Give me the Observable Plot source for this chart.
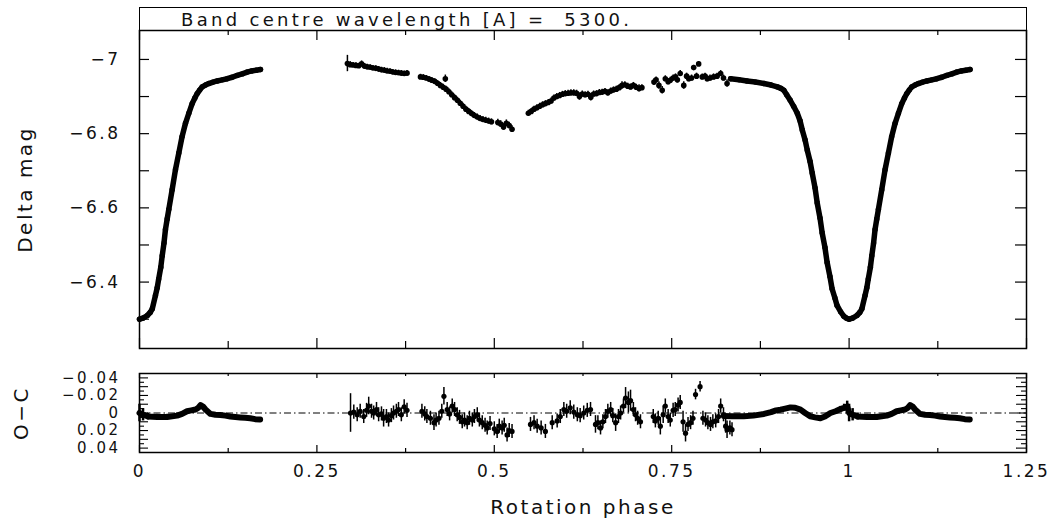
<!DOCTYPE html>
<html>
<head>
<meta charset="utf-8">
<script src="https://cdn.jsdelivr.net/npm/d3@7"></script>
<script src="https://cdn.jsdelivr.net/npm/@observablehq/plot@0.6"></script>
<style>
  body { margin: 0; background: #fff; }
  #wrap { position: relative; width: 1054px; height: 519px; overflow: hidden; font-family: "DejaVu Sans", sans-serif; }
  #top { position: absolute; left: 0; top: 0; }
  #bot { position: absolute; left: 0; top: 360px; }
  #title { position: absolute; left: 139px; top: 7px; width: 888px; height: 24px; box-sizing: border-box;
           border: 1.5px solid #000; border-bottom: none; font-size: 18px; letter-spacing: 3.3px;
           line-height: 22px; padding-left: 41px; padding-top: 1px; color: #111; white-space: pre; }
</style>
</head>
<body>
<div id="wrap">
  <div id="top"></div>
  <div id="title"></div>
  <div id="bot"></div>
</div>
<script>
// ---------------- tick values / labels ----------------
const xMajorTicks = [0, 0.25, 0.5, 0.75, 1, 1.25];
const xMinorTicks = [0.125, 0.375, 0.625, 0.875, 1.125];
const magTicks = [-7.0, -6.9, -6.8, -6.7, -6.6, -6.5, -6.4, -6.3];
const magLabels = [-7, -6.8, -6.6, -6.4];
const ocMajorTicks = [-0.04, -0.03, -0.02, -0.01, 0, 0.01, 0.02, 0.03, 0.04];
const ocMinorTicks = [-0.035, -0.025, -0.015, -0.005, 0.005, 0.015, 0.025, 0.035];
const ocLabels = [-0.04, -0.02, 0, 0.02, 0.04];
const titleText = "Band centre wavelength [A] =  5300.";

// ---------------- light curve, densely sampled part ----------------
const denseLcPhase = [0.000,0.005,0.011,0.015,0.018,0.0225,0.025,0.027,0.030,0.032,
  0.0345,0.0366,0.039,0.0413,0.046,0.0507,0.0554,0.060,0.0648,0.0695,
  0.0742,0.078,0.0813,0.085,0.0883,0.093,0.0977,0.1036,0.1095,0.1166,
  0.1236,0.1306,0.1377,0.1447,0.1518,0.158,0.1645,0.1705,
  0.833,0.845,0.856,0.868,0.880,0.890,0.899,0.904,0.908,0.912,
  0.917,0.922,0.927,0.931,0.934,0.938,0.941,0.945,0.948,0.952,
  0.955,0.959,0.962,0.966,0.969,0.973,0.976,0.980,0.983,0.988,
  0.9925,0.996];
const denseLcMag = [-6.300,-6.303,-6.310,-6.318,-6.328,-6.364,-6.385,-6.408,-6.440,-6.471,
  -6.505,-6.542,-6.570,-6.596,-6.649,-6.703,-6.748,-6.792,-6.828,-6.855,
  -6.881,-6.896,-6.908,-6.918,-6.926,-6.931,-6.935,-6.939,-6.942,-6.945,
  -6.948,-6.952,-6.957,-6.961,-6.966,-6.969,-6.971,-6.973,
  -6.948,-6.945,-6.942,-6.939,-6.935,-6.931,-6.926,-6.922,-6.917,-6.905,
  -6.890,-6.873,-6.855,-6.834,-6.810,-6.783,-6.756,-6.725,-6.694,-6.654,
  -6.614,-6.573,-6.533,-6.493,-6.453,-6.415,-6.382,-6.357,-6.337,-6.320,
  -6.308,-6.303];

// ---------------- light curve, sparse part (with errors) ----------------
const sparseLcPhase = [0.293,0.297,0.301,0.305,0.309,0.313,0.317,0.321,0.325,0.329,0.333,0.337,0.341,0.345,0.349,0.353,0.357,0.361,0.365,0.369,0.373,0.377,
  0.396,0.400,0.404,0.408,0.412,0.416,0.420,0.424,0.428,0.431,0.432,0.436,0.440,0.444,0.448,0.452,0.456,0.460,0.464,0.468,0.472,0.476,0.480,0.484,0.488,0.492,0.496,
  0.505,0.509,0.513,0.517,0.521,0.525,
  0.548,0.552,0.556,0.560,0.564,0.568,0.572,0.576,0.580,
  0.584,0.588,0.592,0.596,0.600,0.604,0.608,0.612,0.616,0.620,0.624,0.628,0.632,0.636,0.640,0.644,0.648,0.652,0.656,0.660,0.664,0.668,0.672,0.676,0.680,0.684,0.688,0.692,0.696,0.700,0.704,0.708,
  0.725,0.728,0.732,0.7366,0.741,0.745,0.748,0.752,0.7554,0.758,0.762,0.767,0.771,0.774,0.778,0.781,0.785,0.788,0.793,0.797,0.800,0.804,0.809,0.814,0.819,0.823,0.828];
const sparseLcMag = [-6.989,-6.986,-6.985,-6.984,-6.983,-6.988,-6.982,-6.980,-6.979,-6.977,-6.976,-6.974,-6.972,-6.971,-6.969,-6.968,-6.966,-6.965,-6.964,-6.963,-6.962,-6.963,
  -6.953,-6.952,-6.950,-6.947,-6.944,-6.941,-6.936,-6.930,-6.925,-6.948,-6.920,-6.913,-6.905,-6.897,-6.890,-6.882,-6.874,-6.866,-6.860,-6.854,-6.849,-6.845,-6.841,-6.838,-6.836,-6.834,-6.832,
  -6.830,-6.826,-6.818,-6.828,-6.822,-6.812,
  -6.855,-6.860,-6.866,-6.870,-6.874,-6.878,-6.881,-6.884,-6.888,
  -6.896,-6.900,-6.903,-6.906,-6.908,-6.909,-6.910,-6.910,-6.909,-6.900,-6.907,-6.905,-6.906,-6.898,-6.907,-6.908,-6.911,-6.912,-6.914,-6.910,-6.915,-6.918,-6.920,-6.924,-6.930,-6.932,-6.928,-6.926,-6.930,-6.925,-6.922,-6.924,
  -6.939,-6.945,-6.930,-6.917,-6.948,-6.940,-6.944,-6.950,-6.953,-6.945,-6.962,-6.930,-6.955,-6.948,-6.950,-6.978,-6.955,-6.988,-6.953,-6.955,-6.948,-6.950,-6.953,-6.955,-6.962,-6.950,-6.935];
const sparseLcErr = [0.022,0.008,0.007,0.007,0.007,0.008,0.007,0.007,0.007,0.007,0.007,0.007,0.007,0.007,0.007,0.007,0.007,0.007,0.007,0.007,0.007,0.007,
  0.007,0.007,0.007,0.007,0.007,0.007,0.007,0.008,0.008,0.010,0.008,0.008,0.008,0.008,0.008,0.008,0.008,0.008,0.008,0.008,0.008,0.008,0.008,0.008,0.008,0.008,0.008,
  0.009,0.009,0.009,0.009,0.009,0.009,
  0.008,0.008,0.008,0.008,0.008,0.008,0.008,0.008,0.008,
  0.008,0.008,0.008,0.008,0.008,0.008,0.008,0.008,0.008,0.010,0.008,0.008,0.008,0.010,0.008,0.008,0.008,0.008,0.008,0.008,0.008,0.008,0.008,0.008,0.010,0.008,0.008,0.008,0.008,0.008,0.010,0.008,
  0.008,0.008,0.010,0.010,0.008,0.008,0.008,0.008,0.008,0.008,0.008,0.010,0.008,0.008,0.008,0.006,0.008,0.006,0.008,0.008,0.008,0.008,0.008,0.008,0.008,0.008,0.010];

// ---------------- O-C residuals, densely sampled part ----------------
const denseOcPhase = [0.000,0.005,0.012,0.025,0.039,0.053,0.060,0.067,0.073,0.079,
  0.083,0.086,0.090,0.093,0.100,0.107,0.114,0.121,0.128,0.135,
  0.142,0.149,0.156,0.163,0.170,
  0.8235,0.835,0.8516,0.865,0.880,0.890,0.897,0.9033,0.910,0.9174,
  0.924,0.9315,0.938,0.9455,0.952,0.9596,0.966,0.9737,0.981,0.9878,
  0.993,0.9973];
const denseOcVal = [0.000,0.002,0.004,0.0045,0.0045,0.003,0.001,-0.002,-0.003,-0.004,
  -0.006,-0.009,-0.007,-0.004,0.001,0.002,0.0023,0.003,0.004,0.0045,
  0.005,0.0055,0.006,0.007,0.0075,
  0.0034,0.0036,0.0038,0.003,0.0011,-0.001,-0.003,-0.0038,-0.005,-0.0064,
  -0.006,-0.0038,0.000,0.0038,0.005,0.006,0.004,0.000,-0.002,-0.0045,
  -0.006,-0.0075];
const denseOcErr = [0.010,0.007,0.004,0.003,0.003,0.003,0.002,0.002,0.002,0.002,
  0.002,0.002,0.002,0.002,0.002,0.002,0.002,0.002,0.002,0.002,
  0.002,0.002,0.002,0.002,0.002,
  0.002,0.002,0.002,0.002,0.002,0.002,0.002,0.002,0.002,0.002,
  0.002,0.002,0.002,0.002,0.002,0.002,0.002,0.002,0.002,0.003,
  0.004,0.006];

// ---------------- O-C residuals, sparse part ----------------
const sparseOcPhase = [0.2974,0.302,0.3068,0.311,0.316,0.320,0.323,0.327,0.330,0.334,0.337,0.341,0.344,0.348,0.351,0.355,0.358,0.362,0.365,0.369,0.373,0.377,
  0.398,0.402,0.405,0.410,0.415,0.418,0.422,0.426,0.429,0.4336,0.437,0.4407,0.444,0.4477,0.451,0.4548,0.458,0.4618,0.465,0.469,0.472,0.476,0.479,0.483,0.487,0.490,0.494,0.500,0.504,0.507,0.511,0.514,0.518,0.521,0.525,
  0.551,0.556,0.5604,0.566,0.572,0.5816,0.5886,0.593,0.598,0.602,0.607,0.612,0.617,0.621,0.626,0.631,0.6356,0.6426,0.646,0.6497,0.653,0.6567,0.660,0.664,0.667,0.671,0.675,0.678,0.682,0.685,0.689,0.692,0.696,0.699,0.702,0.706,
  0.724,0.727,0.731,0.734,0.738,0.741,0.745,0.748,0.752,0.755,0.759,0.762,0.766,0.7695,0.773,0.7766,0.780,0.7836,0.790,0.794,0.7977,0.801,0.8047,0.808,0.812,0.816,0.819,0.823,0.826,0.828,0.832,0.835];
const sparseOcVal = [0.000,-0.001,0.002,-0.002,0.004,-0.003,-0.008,-0.002,0.000,-0.004,0.002,0.001,0.006,0.004,0.008,0.003,0.000,-0.002,-0.004,0.002,-0.007,-0.003,
  -0.002,0.001,0.004,0.006,0.011,0.008,0.006,-0.002,-0.019,-0.004,0.001,-0.008,-0.004,0.002,0.005,0.010,0.008,0.011,0.006,0.008,0.004,0.002,0.008,0.011,0.014,0.017,0.012,0.018,0.021,0.015,0.017,0.014,0.025,0.020,0.021,
  0.013,0.011,0.015,0.017,0.021,0.011,0.009,0.004,-0.004,-0.002,-0.006,-0.001,0.002,0.003,0.000,-0.003,-0.004,0.013,0.011,0.017,0.010,0.004,-0.002,-0.004,0.003,0.011,0.004,0.000,-0.008,-0.017,-0.012,-0.014,-0.004,0.002,0.006,0.010,
  0.004,0.009,0.006,0.015,0.002,-0.008,0.004,0.008,-0.003,-0.004,-0.009,-0.012,0.010,0.023,0.013,0.011,0.006,-0.021,-0.030,0.006,0.008,0.011,0.013,0.010,0.009,0.004,-0.008,0.002,0.015,0.019,0.017,0.019];
const sparseOcErr = [0.022,0.008,0.008,0.008,0.008,0.008,0.010,0.008,0.008,0.008,0.008,0.008,0.010,0.008,0.008,0.008,0.008,0.008,0.008,0.008,0.008,0.008,
  0.008,0.008,0.008,0.008,0.009,0.008,0.008,0.008,0.010,0.008,0.008,0.008,0.008,0.008,0.008,0.008,0.008,0.008,0.008,0.008,0.008,0.008,0.008,0.008,0.008,0.008,0.008,0.008,0.008,0.008,0.008,0.008,0.008,0.008,0.008,
  0.008,0.008,0.008,0.008,0.008,0.008,0.008,0.008,0.008,0.008,0.008,0.008,0.008,0.008,0.008,0.008,0.008,0.010,0.008,0.008,0.008,0.008,0.008,0.008,0.008,0.010,0.008,0.008,0.008,0.012,0.012,0.012,0.008,0.008,0.008,0.008,
  0.008,0.008,0.008,0.010,0.010,0.008,0.008,0.008,0.008,0.008,0.008,0.008,0.012,0.010,0.008,0.008,0.008,0.006,0.006,0.008,0.008,0.008,0.008,0.008,0.008,0.008,0.008,0.008,0.008,0.010,0.008,0.008];

// ---------------- build tables ----------------
const rows = (ph, v, e) => ph.map((p, i) => ({x: p, y: v[i], e: e ? e[i] : 0}));
// the start of the cycle is repeated after phase 1 (phase axis runs to 1.25)
function wrapCycle(rs) {
  const out = [];
  for (const r of rs) {
    out.push({...r, z: r.x < 0.5 ? "a" : "b"});
    if (r.x < 0.25) out.push({...r, x: r.x + 1, z: "b"});
  }
  return out.sort((a, b) => a.x - b.x);
}
const denseLc = wrapCycle(rows(denseLcPhase, denseLcMag));
const sparseLc = rows(sparseLcPhase, sparseLcMag, sparseLcErr);
const denseOc = wrapCycle(rows(denseOcPhase, denseOcVal, denseOcErr));
const sparseOc = rows(sparseOcPhase, sparseOcVal, sparseOcErr);

const fmt = d => (d < 0 ? "\u2212" : "") + String(Math.abs(d));
const FONT = "'DejaVu Sans', sans-serif";
const W = 1054, ML = 139, MR = 28;
const innerW = W - ML - MR;
const ink = "#000";

// ---------------- top panel ----------------
const topH = 360, topMT = 30, topMB = 12, topInner = topH - topMT - topMB;
const topPlot = Plot.plot({
  width: W, height: topH, marginTop: topMT, marginBottom: topMB, marginLeft: ML, marginRight: MR,
  style: {fontFamily: FONT, fontSize: "17px", color: "#111", letterSpacing: "2.5px", background: "transparent"},
  x: {domain: [0, 1.25], axis: null},
  y: {domain: [-6.221, -7.078], axis: null},
  marks: [
    Plot.tickX(xMajorTicks, {x: d => d, insetTop: topInner - 10, stroke: ink, strokeWidth: 1.2}),
    Plot.tickX(xMinorTicks, {x: d => d, insetTop: topInner - 7, stroke: ink, strokeWidth: 1.2}),
    Plot.tickX(xMajorTicks, {x: d => d, insetBottom: topInner - 10, stroke: ink, strokeWidth: 1.2}),
    Plot.tickX(xMinorTicks, {x: d => d, insetBottom: topInner - 5, stroke: ink, strokeWidth: 1.2}),
    Plot.tickY(magTicks, {y: d => d, insetRight: innerW - 10, stroke: ink, strokeWidth: 1.2}),
    Plot.tickY(magTicks, {y: d => d, insetLeft: innerW - 11, stroke: ink, strokeWidth: 1.2}),
    Plot.axisY(magLabels, {anchor: "left", label: null, tickSize: 0, tickPadding: 19, tickFormat: fmt, fontSize: 17}),
    Plot.text(["Delta mag"], {frameAnchor: "left", textAnchor: "middle", dx: -114, rotate: -90, text: d => d, fontSize: 20}),
    Plot.ruleX(sparseLc, {x: "x", y1: d => d.y - d.e, y2: d => d.y + d.e, stroke: ink, strokeWidth: 1.5}),
    Plot.dot(sparseLc, {x: "x", y: "y", r: 2.8, fill: ink}),
    Plot.line(denseLc, {x: "x", y: "y", z: "z", stroke: ink, strokeWidth: 5.5}),
    Plot.dot(denseLc, {x: "x", y: "y", r: 2.7, fill: ink}),
    Plot.frame({stroke: ink, strokeWidth: 1.5})
  ]
});
document.getElementById("top").appendChild(topPlot);
document.getElementById("title").textContent = titleText;

// ---------------- bottom panel (O-C) ----------------
const botH = 159, botMT = 13, botMB = 67, botInner = botH - botMT - botMB;
const botPlot = Plot.plot({
  width: W, height: botH, marginTop: botMT, marginBottom: botMB, marginLeft: ML, marginRight: MR,
  style: {fontFamily: FONT, fontSize: "17px", color: "#111", letterSpacing: "2.5px", background: "transparent"},
  x: {domain: [0, 1.25], axis: null},
  y: {domain: [0.045, -0.045], axis: null},
  marks: [
    Plot.ruleY([0], {stroke: ink, strokeWidth: 1, strokeDasharray: "7,3,1.5,3"}),
    Plot.tickX(xMajorTicks, {x: d => d, insetTop: botInner - 7, stroke: ink, strokeWidth: 1.2}),
    Plot.tickX(xMinorTicks, {x: d => d, insetTop: botInner - 4, stroke: ink, strokeWidth: 1.2}),
    Plot.tickX(xMajorTicks, {x: d => d, insetBottom: botInner - 5, stroke: ink, strokeWidth: 1.2}),
    Plot.tickX(xMinorTicks, {x: d => d, insetBottom: botInner - 3, stroke: ink, strokeWidth: 1.2}),
    Plot.tickY(ocMajorTicks, {y: d => d, insetRight: innerW - 9, stroke: ink, strokeWidth: 1.1}),
    Plot.tickY(ocMinorTicks, {y: d => d, insetRight: innerW - 5, stroke: ink, strokeWidth: 1.1}),
    Plot.tickY(ocMajorTicks, {y: d => d, insetLeft: innerW - 10, stroke: ink, strokeWidth: 1.1}),
    Plot.tickY(ocMinorTicks, {y: d => d, insetLeft: innerW - 5, stroke: ink, strokeWidth: 1.1}),
    Plot.axisY(ocLabels, {anchor: "left", label: null, tickSize: 0, tickPadding: 19, tickFormat: fmt, fontSize: 15}),
    Plot.axisX(xMajorTicks, {anchor: "bottom", label: null, tickSize: 0, tickPadding: 12, tickFormat: fmt, fontSize: 17}),
    Plot.text(["Rotation phase"], {frameAnchor: "bottom", dy: 61, text: d => d, fontSize: 20}),
    Plot.text(["O\u2212C"], {frameAnchor: "left", textAnchor: "middle", dx: -118, rotate: -90, text: d => d, fontSize: 20}),
    Plot.ruleX(sparseOc, {x: "x", y1: d => d.y - d.e, y2: d => d.y + d.e, stroke: ink, strokeWidth: 1.5}),
    Plot.dot(sparseOc, {x: "x", y: "y", r: 2.6, fill: ink}),
    Plot.ruleX(denseOc, {x: "x", y1: d => d.y - d.e, y2: d => d.y + d.e, stroke: ink, strokeWidth: 2.5}),
    Plot.line(denseOc, {x: "x", y: "y", z: "z", stroke: ink, strokeWidth: 6}),
    Plot.frame({stroke: ink, strokeWidth: 1.5})
  ]
});
document.getElementById("bot").appendChild(botPlot);
</script>
</body>
</html>
